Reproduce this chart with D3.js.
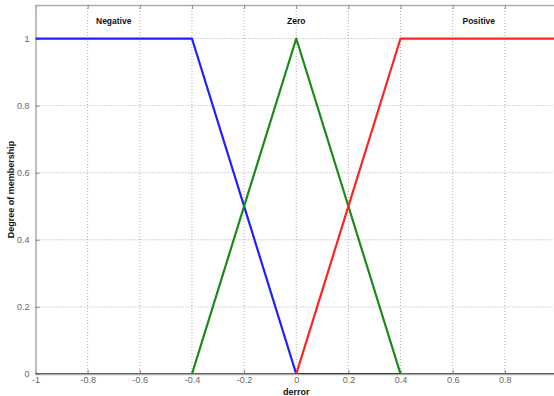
<!DOCTYPE html>
<html>
<head>
<meta charset="utf-8">
<script src="https://cdn.jsdelivr.net/npm/d3@7"></script>
<style>
    body { margin: 0; background: #fff; }
    #chart { width: 554px; height: 396px; overflow: hidden; }
    .axis text { font-family: "Liberation Sans", Arial, sans-serif; font-size: 9px; fill: #666; }
    .mf-label { font-family: "Liberation Sans", Arial, sans-serif; font-size: 8.5px; font-weight: bold; fill: #111; }
    .axis-title { font-family: "Liberation Sans", Arial, sans-serif; font-size: 9px; font-weight: bold; fill: #111; }
</style>
</head>
<body>
<div id="chart"></div>
<script>
// membership functions of "derror"
const mfNames = ["Negative", "Zero", "Positive"];
const mfLabelX = [-0.7, 0, 0.7];
const mfColors = ["#1f1fff", "#1a8a1a", "#ff2222"];

const negX = [-1, -0.4, 0, 1];
const negY = [1, 1, 0, 0];
const zeroX = [-1, -0.4, 0, 0.4, 1];
const zeroY = [0, 0, 1, 0, 0];
const posX = [-1, 0, 0.4, 1];
const posY = [0, 0, 1, 1];

const xTicks = [-1, -0.8, -0.6, -0.4, -0.2, 0, 0.2, 0.4, 0.6, 0.8, 1];
const yTicks = [0, 0.2, 0.4, 0.6, 0.8, 1];

let margin = {top: 5, left: 35.5};
let width = 521.5;
let height = 369;

let svg = d3.select("#chart").append("svg")
    .attr("width", 554)
    .attr("height", 396)
    .append("g")
    .attr("transform", "translate(" + margin.left + "," + margin.top + ")");

let x = d3.scaleLinear().domain([-1, 1]).range([0, width]);
let y = d3.scaleLinear().domain([0, 1.1]).range([height, 0]);

svg.append("defs").append("clipPath")
    .attr("id", "plot-clip")
    .append("rect")
    .attr("width", width)
    .attr("height", height);

// dotted grid
svg.append("g").selectAll("line")
    .data(xTicks.slice(1, -1))
    .enter().append("line")
    .attr("x1", d => x(d)).attr("x2", d => x(d))
    .attr("y1", 0).attr("y2", height)
    .attr("stroke", "#aaa").attr("stroke-width", 1)
    .attr("stroke-dasharray", "1,2");

svg.append("g").selectAll("line")
    .data(yTicks.slice(1))
    .enter().append("line")
    .attr("x1", 0).attr("x2", width)
    .attr("y1", d => y(d)).attr("y2", d => y(d))
    .attr("stroke", "#aaa").attr("stroke-width", 1)
    .attr("stroke-dasharray", "1,2");

// plain hyphen minus like the original, last x label falls off the page
let fmt = d => String(+d.toFixed(1));

let xAxis = d3.axisBottom(x).tickValues(xTicks).tickSizeInner(-4).tickSizeOuter(0).tickPadding(3)
    .tickFormat(d => d === 1 ? "" : fmt(d));
let yAxis = d3.axisLeft(y).tickValues(yTicks).tickSizeInner(-4).tickSizeOuter(0).tickPadding(6)
    .tickFormat(fmt);

let xg = svg.append("g").attr("class", "axis")
    .attr("transform", "translate(0," + height + ")")
    .call(xAxis);
let xTop = svg.append("g").attr("class", "axis")
    .call(d3.axisTop(x).tickValues(xTicks).tickSizeInner(-4).tickSizeOuter(0).tickFormat(""));
let yg = svg.append("g").attr("class", "axis").call(yAxis);

[xg, xTop, yg].forEach(g => {
    g.selectAll("path.domain").attr("stroke", "#aaa").attr("stroke-width", 1.5);
    g.selectAll(".tick line").attr("stroke", "#888");
});

// membership lines: blue, green, red in this order
let series = [
    {xs: negX, ys: negY, color: mfColors[0]},
    {xs: zeroX, ys: zeroY, color: mfColors[1]},
    {xs: posX, ys: posY, color: mfColors[2]}
];

let line = d3.line().x(d => x(d[0])).y(d => y(d[1]));

svg.append("g")
    .attr("clip-path", "url(#plot-clip)")
    .selectAll("path")
    .data(series)
    .enter().append("path")
    .attr("d", d => line(d.xs.map((v, i) => [v, d.ys[i]])))
    .attr("fill", "none")
    .attr("stroke", d => d.color)
    .attr("stroke-width", 2.2)
    .attr("stroke-linejoin", "round");

// names of the membership functions
svg.selectAll(".mf-label")
    .data(mfNames)
    .enter().append("text")
    .attr("class", "mf-label")
    .attr("text-anchor", "middle")
    .attr("x", (d, i) => x(mfLabelX[i]))
    .attr("y", 19)
    .text(d => d);

svg.append("text")
    .attr("class", "axis-title")
    .attr("text-anchor", "middle")
    .attr("x", x(0))
    .attr("y", height + 20.5)
    .text("derror");

svg.append("text")
    .attr("class", "axis-title")
    .attr("text-anchor", "middle")
    .attr("transform", "translate(" + (-22) + "," + y(0.55) + ") rotate(-90)")
    .text("Degree of membership");
</script>
</body>
</html>
